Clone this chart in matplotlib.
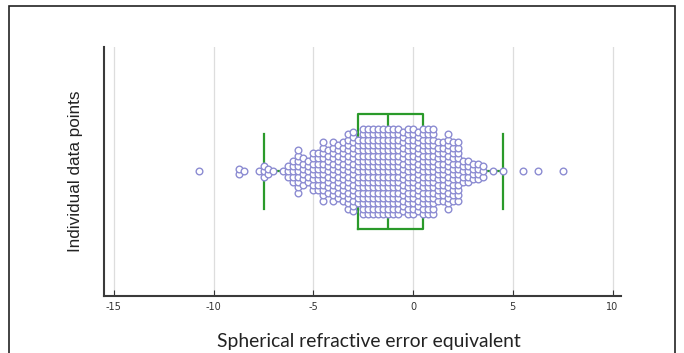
import numpy as np
import matplotlib.pyplot as plt
from matplotlib.patches import Rectangle

# dot-plot columns: x position (dioptres) and number of stacked points
col_x = [-10.75, -8.75, -8.5, -7.75, -7.5, -7.25, -7.0, -6.5, -6.25, -6.0,
         -5.75, -5.5, -5.25, -5.0, -4.75, -4.5, -4.25, -4.0, -3.75, -3.5,
         -3.25, -3.0, -2.75, -2.5, -2.25, -2.0, -1.75, -1.5, -1.25, -1.0,
         -0.75, -0.5, -0.25, 0.0, 0.25, 0.5, 0.75, 1.0, 1.25, 1.5,
         1.75, 2.0, 2.25, 2.5, 2.75, 3.0, 3.25, 3.5, 4.0, 4.5,
         5.5, 6.25, 7.5]
col_n = [1, 2, 1, 1, 3, 2, 1, 1, 3, 5,
         9, 6, 5, 8, 8, 12, 9, 12, 11, 12,
         15, 16, 13, 17, 17, 17, 17, 17, 17, 17,
         17, 16, 17, 17, 16, 17, 17, 17, 12, 12,
         15, 12, 12, 5, 5, 4, 4, 3, 1, 1,
         1, 1, 1]

# box plot summary
q1, median, q3 = -2.75, -1.25, 0.5
whisker_lo, whisker_hi = -7.5, 4.5

ticks = [-15, -10, -5, 0, 5, 10]

green = "#2a9a2a"
dot_edge = "#8c8cd2"

fig = plt.figure(figsize=(6.84, 3.53), dpi=100)
ax = fig.add_axes([0.152, 0.1615, 0.7566, 0.7055])

# stack points symmetrically around the centre line
step = 0.0426
xs, ys = [], []
for x, n in zip(col_x, col_n):
    for i in range(n):
        xs.append(x)
        ys.append((i - (n - 1) / 2) * step)

stats = [dict(med=median, q1=q1, q3=q3, whislo=whisker_lo, whishi=whisker_hi, fliers=[])]
ax.bxp(stats, positions=[0], widths=0.92, capwidths=0.6, orientation="horizontal",
       showfliers=False,
       boxprops=dict(color=green, linewidth=1.6),
       medianprops=dict(color=green, linewidth=1.6),
       whiskerprops=dict(color=green, linewidth=1.6),
       capprops=dict(color=green, linewidth=1.6))

ax.plot(xs, ys, "o", markersize=4.8, markerfacecolor="white",
        markeredgecolor=dot_edge, markeredgewidth=1.0, zorder=5)

ax.set_xlim(-15.5, 10.45)
ax.set_ylim(-1, 1)
ax.set_xticks(ticks)
ax.set_xticklabels([str(t) for t in ticks])
ax.set_yticks([])
for t in ticks:
    ax.axvline(t, color="#dddddd", linewidth=0.9, zorder=0)

for side in ["top", "right"]:
    ax.spines[side].set_visible(False)
for side in ["left", "bottom"]:
    ax.spines[side].set_color("#3a3a3a")
    ax.spines[side].set_linewidth(1.5)

ax.tick_params(axis="x", direction="in", length=4, width=0.8, colors="#333333",
               labelsize=7, pad=4)

ax.set_ylabel("Individual data points", fontsize=12.3, family="Liberation Sans",
              color="#222222", labelpad=15)
fig.text(369 / 684, 1 - 342 / 353, "Spherical refractive error equivalent",
         ha="center", va="center", fontsize=13.9, family="Lato", color="#222222")

# outer frame of the figure
fig.patches.append(Rectangle((9 / 684, -0.1), (675 - 9) / 684, 1.083,
                             transform=fig.transFigure, fill=False,
                             edgecolor="#222222", linewidth=1.2))

fig.savefig("out.png", dpi=100)
